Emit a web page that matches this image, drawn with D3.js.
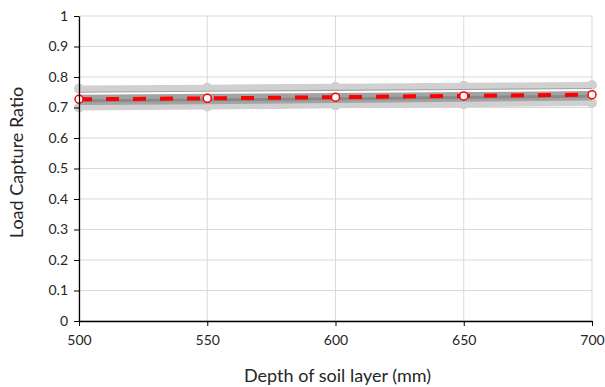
<html lang="en">
<head>
<style>
body { margin: 0; background: #fff; }
text { font-family: Lato, "Open Sans", sans-serif; fill: #262626; }
</style>
</head>
<body>
<script type='text/javascript' src='https://d3js.org/d3.v7.min.js'></script>
<script>
// depth of soil layer (mm)
const depths = [500, 550, 600, 650, 700];
// grey envelope series
const outerMax = [0.762, 0.765, 0.768, 0.771, 0.774];
const outerMin = [0.700, 0.703, 0.707, 0.711, 0.715];
const innerMax = [0.752, 0.755, 0.758, 0.761, 0.764];
const innerMin = [0.708, 0.711, 0.715, 0.719, 0.723];
const whiteLine = [0.745, 0.748, 0.751, 0.754, 0.757];
const greyLine = [0.722, 0.725, 0.729, 0.733, 0.737];
// red dashed series
const redLine = [0.727, 0.730, 0.734, 0.738, 0.742];
const yTicks = [0, 0.1, 0.2, 0.3, 0.4, 0.5, 0.6, 0.7, 0.8, 0.9, 1];
const xTicks = [500, 550, 600, 650, 700];

const margin = {top: 16, right: 13, bottom: 66, left: 79};
const width = 605 - margin.left - margin.right;
const height = 387 - margin.top - margin.bottom;

var svg = d3.select('body')
.append("svg")
.attr("width", 605)
.attr("height", 387)
.append("g")
.attr("transform", "translate(" + margin.left + "," + margin.top + ")");

var x = d3.scaleLinear().domain([500, 700]).range([0, width]);
var y = d3.scaleLinear().domain([0, 1]).range([height, 0]);

// gridlines
svg.selectAll(".hgrid").data(yTicks).enter().append("line")
.attr("x1", 0).attr("x2", width)
.attr("y1", d => y(d)).attr("y2", d => y(d))
.attr("stroke", "#d9d9d9").attr("stroke-width", 1);
svg.selectAll(".vgrid").data(xTicks).enter().append("line")
.attr("y1", 0).attr("y2", height)
.attr("x1", d => x(d)).attr("x2", d => x(d))
.attr("stroke", "#d9d9d9").attr("stroke-width", 1);

function pts(arr) { return depths.map((d, i) => ({x: d, y: arr[i]})); }

var area = (lo, hi) => d3.area()
.x((d, i) => x(depths[i]))
.y0((d, i) => y(lo[i]))
.y1((d, i) => y(hi[i]));

// outer light band
svg.append("path").datum(depths).attr("d", area(outerMin, outerMax)).attr("fill", "#d0d0d0");
var line = d3.line().x(d => x(d.x)).y(d => y(d.y));
[outerMax, outerMin].forEach(s => {
  svg.append("path").datum(pts(s)).attr("d", line)
  .attr("fill", "none").attr("stroke", "#d0d0d0").attr("stroke-width", 6);
  svg.selectAll(null).data(pts(s)).enter().append("circle")
  .attr("cx", d => x(d.x)).attr("cy", d => y(d.y)).attr("r", 5)
  .attr("fill", "#d0d0d0");
});
// inner darker band
svg.append("path").datum(depths).attr("d", area(innerMin, innerMax)).attr("fill", "#a3a3a3");
svg.append("path").datum(pts(whiteLine)).attr("d", line)
.attr("fill", "none").attr("stroke", "#ffffff").attr("stroke-width", 2);
svg.append("path").datum(pts(greyLine)).attr("d", line)
.attr("fill", "none").attr("stroke", "#8a8a8a").attr("stroke-width", 3);

// red dashed series
svg.append("path").datum(pts(redLine)).attr("d", line)
.attr("fill", "none").attr("stroke", "#ff0000").attr("stroke-width", 4)
.attr("stroke-dasharray", "13,14");
svg.selectAll(".redpt").data(pts(redLine)).enter().append("circle")
.attr("cx", d => x(d.x)).attr("cy", d => y(d.y)).attr("r", 4)
.attr("fill", "#fff").attr("stroke", "#ff0000").attr("stroke-width", 1.5);

// axes
var xAxis = svg.append("g")
.attr("transform", "translate(0," + height + ")")
.call(d3.axisBottom(x).tickValues(xTicks).tickSize(5).tickSizeOuter(0).tickPadding(9));
var yAxis = svg.append("g")
.call(d3.axisLeft(y).tickValues(yTicks).tickFormat(d3.format("")).tickSize(5).tickSizeOuter(0).tickPadding(6));
[xAxis, yAxis].forEach(a => {
  a.select(".domain").attr("stroke", "#000").attr("stroke-width", 1.3);
  a.selectAll(".tick line").attr("stroke", "#000");
  a.selectAll("text").style("font-size", "14px").attr("fill", "#262626");
});

// titles
svg.append("text")
.attr("x", width / 2 + 2).attr("y", height + 61)
.attr("text-anchor", "middle")
.style("font-size", "18px")
.text("Depth of soil layer (mm)");
svg.append("text")
.attr("transform", "translate(-56," + (height / 2 - 6) + ") rotate(-90)")
.attr("text-anchor", "middle")
.style("font-size", "18px")
.text("Load Capture Ratio");
</script>
</body>
</html>
